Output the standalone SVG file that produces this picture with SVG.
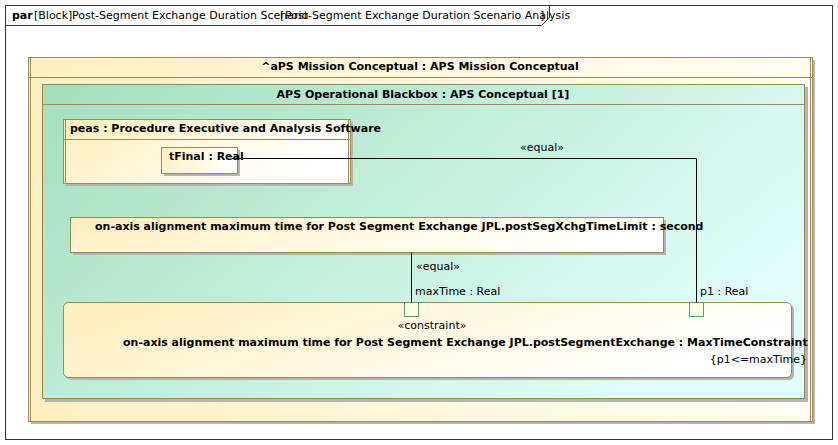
<svg xmlns="http://www.w3.org/2000/svg" width="838" height="445" viewBox="0 0 838 445">
<defs>
<linearGradient id="gy" x1="0" y1="0" x2="1" y2="0.3">
<stop offset="0" stop-color="#ffeebb"/>
<stop offset="1" stop-color="#ffffff"/>
</linearGradient>
<linearGradient id="gm" x1="0" y1="0" x2="1" y2="0">
<stop offset="0" stop-color="#fff0c2"/>
<stop offset="1" stop-color="#fffdf6"/>
</linearGradient>
<linearGradient id="gg" x1="0" y1="0" x2="1" y2="0.5">
<stop offset="0" stop-color="#a5debd"/>
<stop offset="1" stop-color="#e0fdf9"/>
</linearGradient>
<style>
text{font-family:"DejaVu Sans","Liberation Sans",sans-serif;font-size:11px;fill:#000}
.b{font-weight:bold}
.box{stroke:#9a8a58;stroke-width:1}
.sh{fill:#b4b4b4}
.port{fill:#ffffe6;stroke:#5e9e6e;stroke-width:1}
.con{fill:none;stroke:#000;stroke-width:1}
</style>
</defs>
<rect x="0" y="0" width="838" height="445" fill="#fff"/>
<g id="frame">
<rect x="5.5" y="5.5" width="827" height="434" fill="none" stroke="#333"/>
<path d="M5.5 25.5 H541.5 L549.5 17.5 V5.5" fill="none" stroke="#333"/>
<text x="12" y="19" class="b">par</text>
<text x="34" y="19">[Block]</text>
<text x="72" y="19">Post-Segment Exchange Duration Scenario</text>
<text x="280" y="19">[</text>
<text x="285" y="19">Post-Segment Exchange Duration Scenario Analysis</text>
<text x="540" y="19">]</text>
</g>
<g id="mission">
<rect x="31" y="60" width="784" height="364" class="sh"/>
<rect x="28.5" y="57.5" width="784" height="364" fill="url(#gm)" class="box"/>
<line x1="30.5" y1="57.5" x2="30.5" y2="421.5" class="box"/>
<line x1="810.5" y1="57.5" x2="810.5" y2="421.5" class="box"/>
<line x1="28.5" y1="77.5" x2="812.5" y2="77.5" class="box"/>
<text x="420" y="70" class="b" text-anchor="middle">^aPS Mission Conceptual : APS Mission Conceptual</text>
</g>
<g id="blackbox">
<rect x="45" y="87" width="763" height="315" class="sh"/>
<rect x="42.5" y="84.5" width="762" height="314" fill="url(#gg)" class="box"/>
<line x1="42.5" y1="104.5" x2="804.5" y2="104.5" class="box"/>
<text x="423" y="98" class="b" text-anchor="middle">APS Operational Blackbox : APS Conceptual [1]</text>
</g>
<g id="peas">
<rect x="66" y="122" width="287" height="64" class="sh"/>
<rect x="63.5" y="119.5" width="287" height="64" fill="url(#gy)" class="box"/>
<line x1="65.5" y1="119.5" x2="65.5" y2="183.5" class="box"/>
<line x1="348.5" y1="119.5" x2="348.5" y2="183.5" class="box"/>
<line x1="63.5" y1="139.5" x2="350.5" y2="139.5" class="box"/>
<text x="70" y="132" class="b">peas : Procedure Executive and Analysis Software</text>
</g>
<g id="tFinal">
<rect x="164" y="150" width="76" height="26" class="sh"/>
<rect x="161.5" y="147.5" width="76" height="26" fill="url(#gy)" class="box"/>
<text x="169" y="160" class="b">tFinal : Real</text>
</g>
<g id="timeLimit">
<rect x="73" y="220" width="593" height="35" class="sh"/>
<rect x="70.5" y="217.5" width="593" height="35" fill="url(#gy)" class="box"/>
<text x="95" y="230" class="b">on-axis alignment maximum time for Post Segment Exchange JPL.postSegXchgTimeLimit : second</text>
</g>
<g id="constraint">
<rect x="66" y="305" width="728" height="75" rx="5" class="sh"/>
<rect x="63.5" y="302.5" width="728" height="75" rx="5" fill="url(#gy)" class="box"/>
<text x="432" y="329" text-anchor="middle">«constraint»</text>
<text x="123" y="346" class="b">on-axis alignment maximum time for Post Segment Exchange JPL.postSegmentExchange : MaxTimeConstraint</text>
<text x="807" y="363" text-anchor="end">{p1&lt;=maxTime}</text>
</g>
<g id="port-maxTime">
<rect x="404.5" y="302.5" width="14" height="14" class="port"/>
<text x="415" y="295">maxTime : Real</text>
</g>
<g id="port-p1">
<rect x="689.5" y="302.5" width="14" height="14" class="port"/>
<text x="700" y="295">p1 : Real</text>
</g>
<g id="connectors">
<polyline points="232,158.5 696.5,158.5 696.5,302.5" class="con"/>
<text x="520" y="151">«equal»</text>
<line x1="411.5" y1="252.5" x2="411.5" y2="302.5" class="con"/>
<text x="416" y="270">«equal»</text>
</g>
</svg>
